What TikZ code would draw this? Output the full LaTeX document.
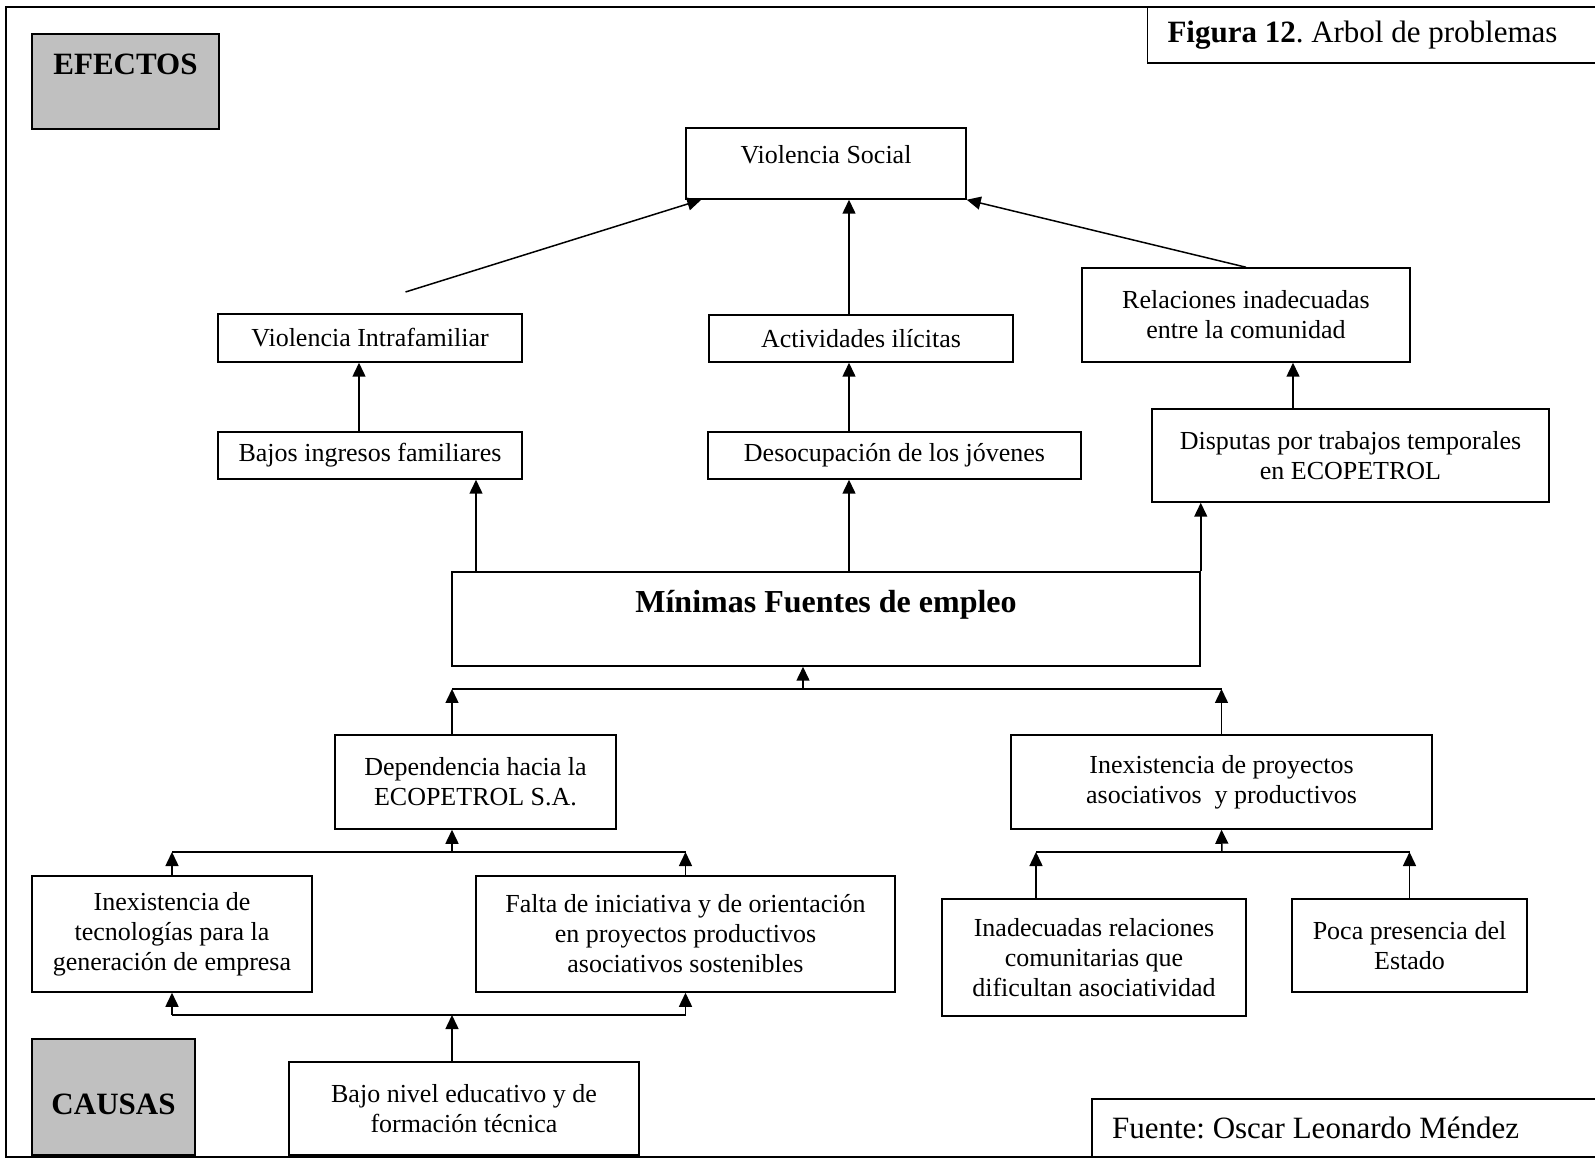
\documentclass[tikz,border=0pt]{standalone}
\usepackage{fontspec}
\setmainfont{Liberation Serif}
\usepackage{tikz}
\usetikzlibrary{arrows.meta}
\definecolor{gris}{RGB}{192,192,192}
\frenchspacing

\begin{document}
\begin{tikzpicture}[x=0.5pt,y=-0.5pt,line width=.75pt,>={Triangle[length=7pt,width=6.5pt]},
  caja/.style={draw,align=center,font=\fontsize{13}{15}\selectfont},
  titulo/.style={caja,fill=gris,font=\fontsize{15.5}{18}\selectfont\bfseries},
  nota/.style={caja,align=flush left,inner xsep=10pt,font=\fontsize{15.5}{18}\selectfont}]
\useasboundingbox (0,0) rectangle (1595,1159);
\draw[line width=1pt] (6,7) rectangle (1600,1157);
\node [titulo, minimum width=93.5pt, minimum height=47.5pt, text height=10.5pt, text depth=17.7pt] (efectos) at (125.5,81.5) {EFECTOS};
\node [nota, text width=206pt, minimum height=28pt] (figura) at (1373.5,35) {\textbf{Figura 12}. Arbol de problemas};
\node [caja, minimum width=140pt, minimum height=35.5pt, text height=9pt, text depth=9pt] (vsocial) at (826,163.5) {Violencia Social};
\node [caja, minimum width=152pt, minimum height=24pt] (vintra) at (370,338) {Violencia Intrafamiliar};
\node [caja, minimum width=152pt, minimum height=23.5pt] (activ) at (861,338.5) {Actividades ilícitas};
\node [caja, minimum width=164pt, minimum height=47pt] (relac) at (1246,315) {Relaciones inadecuadas\\entre la comunidad};
\node [caja, minimum width=152pt, minimum height=23.5pt] (bajos) at (370,455.5) {Bajos ingresos familiares};
\node [caja, minimum width=186.5pt, minimum height=23.5pt] (desoc) at (894.5,455.5) {Desocupación de los jóvenes};
\node [caja, minimum width=198.5pt, minimum height=46.5pt] (disput) at (1350.5,455.5) {Disputas por trabajos temporales\\en ECOPETROL};
\node [caja, minimum width=374pt, minimum height=47pt, text height=11pt, text depth=17.4pt, font=\fontsize{16}{18}\selectfont\bfseries] (minimas) at (826,619) {Mínimas Fuentes de empleo};
\node [caja, minimum width=140.5pt, minimum height=47pt] (depend) at (475.5,782) {Dependencia hacia la\\ECOPETROL S.A.};
\node [caja, minimum width=210.5pt, minimum height=47pt] (inexproy) at (1221.5,782) {Inexistencia de proyectos\\asociativos\ \ y productivos};
\node [caja, minimum width=140pt, minimum height=58pt] (inextec) at (172,934) {Inexistencia de\\tecnologías para la\\generación de empresa};
\node [caja, minimum width=209.5pt, minimum height=58pt] (falta) at (685.5,934) {Falta de iniciativa y de orientación\\en proyectos productivos\\asociativos sostenibles};
\node [caja, minimum width=152pt, minimum height=58.5pt] (inadec) at (1094,957.5) {Inadecuadas relaciones\\comunitarias que\\dificultan asociatividad};
\node [caja, minimum width=117.5pt, minimum height=46.5pt] (poca) at (1409.5,945.5) {Poca presencia del\\Estado};
\node [caja, minimum width=175pt, minimum height=46.5pt] (bajonivel) at (464,1108.5) {Bajo nivel educativo y de\\formación técnica};
\node [titulo, minimum width=81.5pt, minimum height=58pt, text height=17.3pt, text depth=0pt] (causas) at (113.5,1097) {CAUSAS};
\node [nota, text width=234pt, minimum height=29pt] (fuente) at (1346,1128) {Fuente: Oscar Leonardo Méndez};
\coordinate (inicio) at (405.5,292);
\coordinate (colA) at (359,0);
\coordinate (colB) at (849,0);
\coordinate (colC) at (476,0);
\coordinate (colD) at (452,0);
\coordinate (colE) at (1293,0);
\coordinate (colF) at (1036,0);
\coordinate (bar1) at (803,689);
\coordinate (bar2) at (452,852);
\coordinate (bar3) at (452,1015);
\coordinate (bar4) at (1222,852);
\path[->] (inicio) edge ([xshift=8pt]vsocial.south west);
\path[->] (activ.north -| colB) edge (vsocial.south -| colB);
\path[->] (relac.north) edge (vsocial.south east);
\path[->] (bajos.north -| colA) edge (vintra.south -| colA);
\path[->] (desoc.north -| colB) edge (activ.south -| colB);
\path[->] (disput.north -| colE) edge (relac.south -| colE);
\path[->] (minimas.north -| colC) edge (bajos.south -| colC);
\path[->] (minimas.north -| colB) edge (desoc.south -| colB);
\path[->] (minimas.north east) edge (disput.south -| minimas.north east);
\draw (bar1 -| colD) -- (bar1 -| inexproy.north);
\path[->] (bar1) edge (minimas.south -| bar1);
\path[->] (depend.north -| colD) edge (bar1 -| colD);
\path[->] (inexproy.north) edge (bar1 -| inexproy.north);
\draw (bar2 -| inextec.north) -- (bar2 -| falta.north);
\path[->] (bar2) edge (depend.south -| bar2);
\path[->] (inextec.north) edge (bar2 -| inextec.north);
\path[->] (falta.north) edge (bar2 -| falta.north);
\draw (bar3 -| inextec.south) -- (bar3 -| falta.south);
\path[->] (bar3 -| inextec.south) edge (inextec.south);
\path[->] (bar3 -| falta.south) edge (falta.south);
\path[->] (bajonivel.north -| bar3) edge (bar3);
\draw (bar4 -| colF) -- (bar4 -| poca.north);
\path[->] (bar4) edge (inexproy.south);
\path[->] (inadec.north -| colF) edge (bar4 -| colF);
\path[->] (poca.north) edge (bar4 -| poca.north);
\end{tikzpicture}
\end{document}
